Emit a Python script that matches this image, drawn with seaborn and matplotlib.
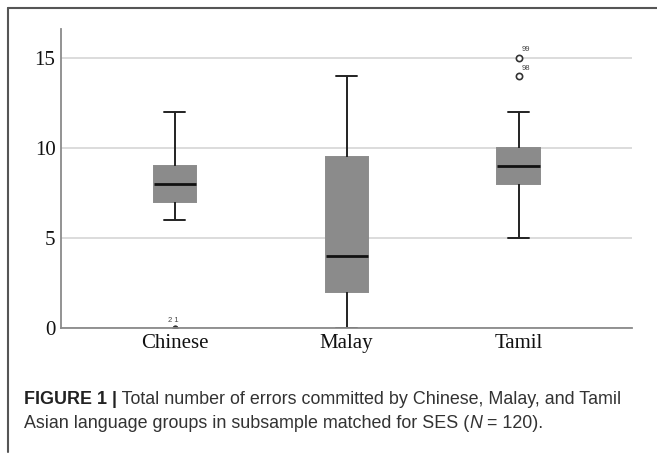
import matplotlib
matplotlib.use("Agg")
import matplotlib.pyplot as plt
import pandas as pd
import seaborn as sns

# 各组错误数（按图中箱线统计量读取）
groups = ["Chinese", "Malay", "Tamil"]
chinese_errors = [0, 0, 6, 7, 7, 7, 8, 8, 8, 9, 9, 9, 12]
malay_errors = [0, 2, 2, 4, 9, 10, 14]
tamil_errors = [5, 7, 8, 8, 9, 9, 9, 9, 9, 10, 12, 14, 15]

# 离群点编号标注
outlier_labels = [("Chinese", 0, "2 1"), ("Tamil", 15, "99"), ("Tamil", 14, "98")]
y_ticks = [0, 5, 10, 15]

df = pd.DataFrame({
    "group": ["Chinese"] * len(chinese_errors) + ["Malay"] * len(malay_errors) + ["Tamil"] * len(tamil_errors),
    "errors": chinese_errors + malay_errors + tamil_errors,
})

sns.set_theme(style="white")
plt.rcParams["font.family"] = ["Liberation Sans", "DejaVu Sans"]

fig = plt.figure(figsize=(6.57, 4.57), dpi=100)
ax = fig.add_axes([0.093, 0.282, 0.869, 0.655])

ax.yaxis.grid(True, color="#d6d6d6", linewidth=1.2)
ax.set_axisbelow(True)

sns.boxplot(
    data=df, x="group", y="errors", order=groups, ax=ax,
    color="#8b8b8b", saturation=1, width=0.245, linewidth=1.4,
    boxprops=dict(facecolor="#8b8b8b", edgecolor="#8b8b8b"),
    whiskerprops=dict(color="#222222", linewidth=1.4),
    capprops=dict(color="#222222", linewidth=1.4),
    medianprops=dict(color="#111111", linewidth=2),
    flierprops=dict(marker="o", markersize=4.5, markerfacecolor="white",
                    markeredgecolor="#333333", markeredgewidth=1.2),
)

# 位于 0 的离群点在原图中显示为小黑点
for line in ax.lines:
    yd = list(line.get_ydata())
    if line.get_marker() == "o" and len(yd) > 0 and all(v == 0 for v in yd):
        line.set_markerfacecolor("#111111")
        line.set_markersize(3)

# 离群点标号
for g, v, lab in outlier_labels:
    xi = groups.index(g)
    ax.annotate(lab, (xi, v), xytext=(2 if lab != "2 1" else -5, 3), textcoords="offset points",
                fontsize=5.5, color="#444444", ha="left", va="bottom")

ax.set_xlim(-0.66, 2.66)
ax.set_ylim(0, 16.6)
ax.set_yticks(y_ticks)
ax.set_xlabel("")
ax.set_ylabel("")
ax.tick_params(axis="both", length=0, pad=4)
for lab in ax.get_xticklabels() + ax.get_yticklabels():
    lab.set_family(["Liberation Serif", "DejaVu Serif"])
    lab.set_fontsize(15)
    lab.set_color("#111111")

for side in ["top", "right"]:
    ax.spines[side].set_visible(False)
for side in ["left", "bottom"]:
    ax.spines[side].set_color("#8a8a8a")
    ax.spines[side].set_linewidth(1.3)

# 外框（上边和左边）
fig.add_artist(plt.Line2D([8 / 657, 1], [1 - 8 / 457] * 2, color="#555555", linewidth=1.5))
fig.add_artist(plt.Line2D([8 / 657] * 2, [1 - 8 / 457, 1 - 452 / 457], color="#555555", linewidth=1.5))

# 图注
cap_color = "#333333"
cap_size = 12.9
t1 = fig.text(24 / 657, 1 - 400 / 457, "FIGURE 1 |", fontsize=cap_size, fontweight="bold",
              color="#222222", va="center", ha="left")
ax.annotate(" Total number of errors committed by Chinese, Malay, and Tamil",
            xy=(1, 0), xycoords=t1, fontsize=cap_size, color=cap_color,
            ha="left", va="bottom", annotation_clip=False)
t2 = fig.text(24 / 657, 1 - 424 / 457, "Asian language groups in subsample matched for SES (",
              fontsize=cap_size, color=cap_color, va="center", ha="left")
t3 = ax.annotate("N", xy=(1, 0), xycoords=t2, fontsize=cap_size, color=cap_color,
                 style="italic", ha="left", va="bottom", annotation_clip=False)
ax.annotate(" = 120).", xy=(1, 0), xycoords=t3, fontsize=cap_size, color=cap_color,
            ha="left", va="bottom", annotation_clip=False)

fig.savefig("out.png", dpi=100)
